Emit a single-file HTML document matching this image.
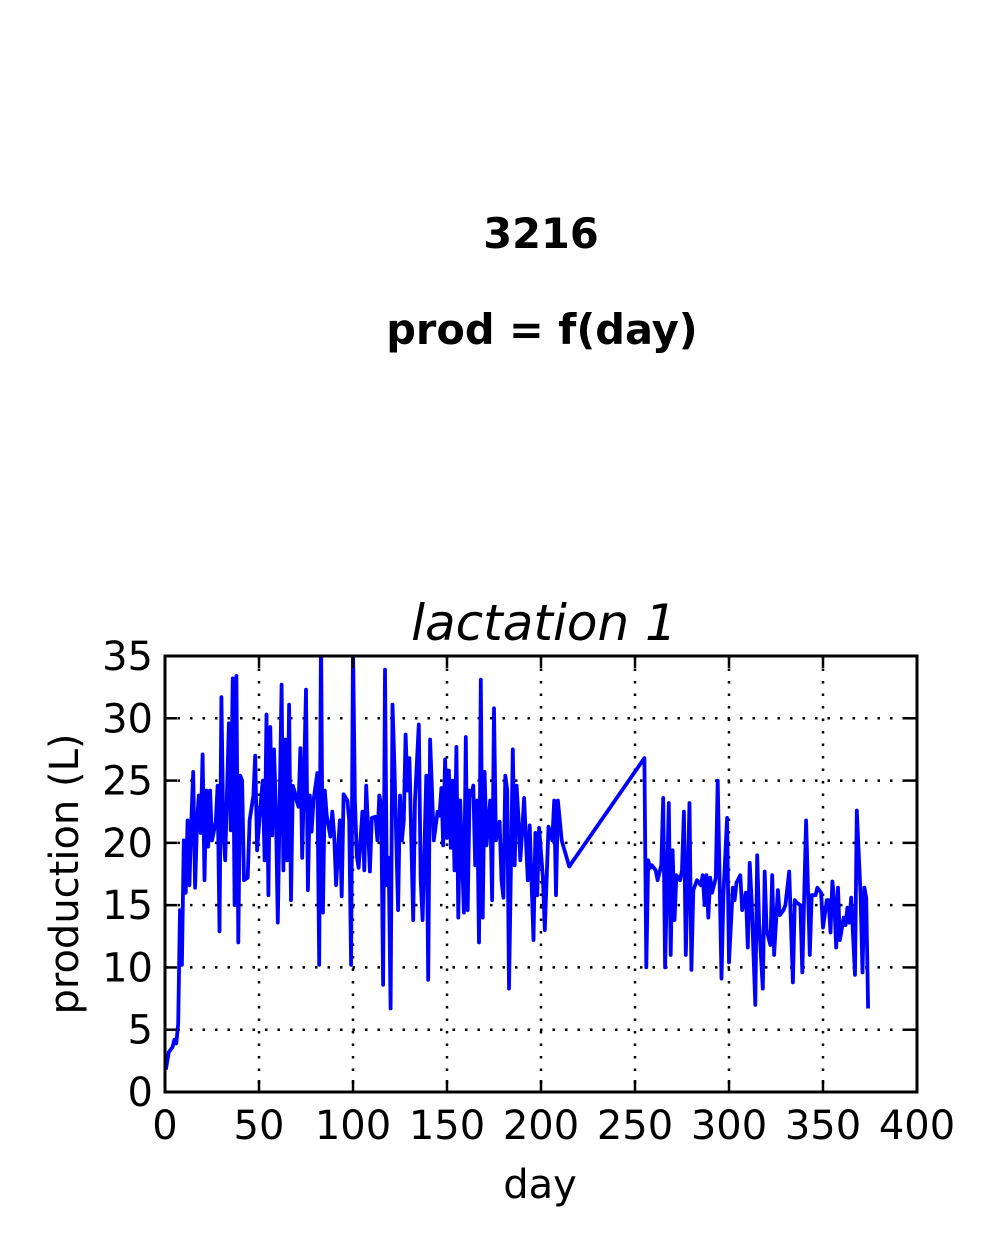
<!DOCTYPE html>
<html><head><meta charset="utf-8"><style>
body{margin:0;background:#fff;}
svg text{font-family:"DejaVu Sans","Liberation Sans",sans-serif;}
</style></head><body>
<svg id="chart" width="1000" height="1250" xmlns="http://www.w3.org/2000/svg">
<text x="541" y="248" font-size="41.5" font-weight="bold" text-anchor="middle">3216</text>
<text x="542" y="344" font-size="41.5" font-weight="bold" text-anchor="middle">prod = f(day)</text>
<text x="544" y="640" font-size="50" font-style="italic" text-anchor="middle">lactation 1</text>
<defs><clipPath id="clip"><rect x="165" y="656" width="752" height="436"/></clipPath></defs>
<g id="grid"></g>
<path id="line" fill="none" stroke="#0000ff" stroke-width="3.8" stroke-linejoin="round" clip-path="url(#clip)"/>
<g id="axes"></g>
<rect x="165" y="656" width="752" height="436" fill="none" stroke="#000" stroke-width="3"/>
<text x="540" y="1198" font-size="40" text-anchor="middle">day</text>
<text transform="translate(78,874) rotate(-90)" font-size="40" text-anchor="middle">production (L)</text>
</svg>
<script>
const xTicks=[0,50,100,150,200,250,300,350,400];
const yTicks=[0,5,10,15,20,25,30,35];
const days=[0.5,2,4,5,6,7,8,9,10,11,12,13,14,15,16,17,18,19,20,21,22,23,24,25,27,28,29,30,31,32,34,35,36,37,38,39,40,41,42,44,45,47,48,49,51,52,53,54,55,56,57,58,59,60,62,63,64,65,66,67,68,69,70,71,72,73,75,76,77,78,79,81,82,83,84,85,86,88,89,90,91,93,94,95,97,98,99,100,
101,102,103,105,106,107,109,110,112,113,114,115,116,117,118,119,120,121,122,124,125,126,127,128,129,130,132,133,135,136,137,139,140,141,143,145,146,147,148,149,150,151,152,153,154,155,156,157,159,160,161,162,163,164,165,166,167,168,169,170,171,173,174,175,176,178,179,180,181,182,183,185,186,187,188,189,190,191,193,194,196,197,198,199,201,202,204,206,207,208,209,211,215,
255,256,257,258,259,261,262,264,265,266,268,269,270,271,272,274,275,276,277,279,280,281,283,285,286,287,288,289,290,291,293,294,296,297,299,300,302,303,304,306,307,309,310,311,312,314,315,316,318,319,320,322,323,324,326,327,329,330,332,334,335,336,338,339,341,343,344,346,347,349,350,352,353,354,355,356,357,358,359,361,362,363,364,365,367,368,370,371,372,373,374];
const production=[1.8,3.2,3.6,4.2,3.9,5.5,14.6,10.2,20.2,16,21.8,16.6,21.7,25.7,16.4,21.6,23.8,20.8,27.1,17,24.2,19.7,24.2,20.2,21.7,24.6,12.9,31.7,21,18.6,29.6,21,33.2,15,33.4,12,25.4,25,17,17.2,21.8,23.8,27,19.4,23.4,25,18.6,30.3,15.8,29.3,20.6,27.5,22.6,13.6,32.7,17.8,28.3,18.6,31.1,15.4,24.6,24.1,23.4,22.9,27.6,18.8,32.3,16.2,23.8,20.9,23.4,25.6,10.2,37,14.4,24.2,22.2,20.5,22.5,20.6,16.6,21.8,15.7,23.9,23.4,21.8,10.2,36,
23.4,19,18,22.5,17.8,24.6,17.7,22,22.1,20.2,23.8,23,8.6,33.9,16.6,18.8,6.7,31.1,26.2,14.6,23.8,20.2,21.8,28.7,24.2,26.8,13.8,23.4,29.5,17,13.8,25.4,9,28.3,20.2,22.5,22.2,24.4,19.8,26.7,20.4,25.8,19.6,25,17.8,27.7,14,23.4,14.4,28.5,14.6,24.2,23.8,24.6,18.2,23.4,12,33.1,14,25.7,19.8,23.4,15.4,30.8,20.2,21.7,17,15.6,25.4,24.2,8.3,27.5,18.2,24.6,22.1,18.6,21,23.6,17,21.4,12.2,20.8,15.8,21.2,17.2,13,21.3,20.2,23.4,15.8,23.4,20.2,18.1,
26.8,10,18.6,18,18.2,17.8,17,18.2,23.6,10,23.2,11,19.4,13.8,17.4,17,17.8,22.5,11,23.2,9.8,16.2,17,16.6,17.4,15,17.4,14,17.2,16,17.2,25,9.1,15.8,22,10.4,16.4,15.4,16.8,17.4,14.6,16,11.6,18.4,15.4,7,19,13.6,8.3,17.7,13,11.8,17.4,11,16.2,14.2,14.6,15,17.7,8.8,15.4,15.2,15,9.6,21.8,11,15.8,15.8,16.4,16,13.2,15.4,15.4,12.8,16.9,15.3,11.6,16.4,12.2,14,13.4,14.8,13.6,15.6,9.4,22.6,15.8,9.6,16.4,15.6,6.7];
const X0=165,X1=917,Y0=1092,Y1=656;
function sx(d){return X0+(d-0)/(400-0)*(X1-X0);}
function sy(v){return Y0-(v-0)/(35-0)*(Y0-Y1);}
const NS="http://www.w3.org/2000/svg";
const grid=document.getElementById('grid'),axes=document.getElementById('axes');
function mk(tag,attrs,parent){const e=document.createElementNS(NS,tag);for(const k in attrs)e.setAttribute(k,attrs[k]);parent.appendChild(e);return e;}
xTicks.forEach(t=>{const x=sx(t);
 const g=mk('line',{x1:x,x2:x,y1:Y1,y2:Y0,stroke:'#000','stroke-width':2.5,'stroke-dasharray':'2.5,10'},grid);
 
 
 mk('line',{x1:x,x2:x,y1:Y0,y2:Y0-12,stroke:'#000','stroke-width':2.5},axes);
 mk('line',{x1:x,x2:x,y1:Y1,y2:Y1+12,stroke:'#000','stroke-width':2.5},axes);
 const l=mk('text',{x:x,y:Y0+47,'font-size':40,'text-anchor':'middle'},axes);l.textContent=t;
 
 
});
yTicks.forEach(t=>{const y=sy(t);
 const g=mk('line',{x1:X0,x2:X1,y1:y,y2:y,stroke:'#000','stroke-width':2.5,'stroke-dasharray':'2.5,10'},grid);
 
 
 mk('line',{x1:X0,x2:X0+12,y1:y,y2:y,stroke:'#000','stroke-width':2.5},axes);
 mk('line',{x1:X1,x2:X1-12,y1:y,y2:y,stroke:'#000','stroke-width':2.5},axes);
 const l=mk('text',{x:X0-12,y:y+14,'font-size':40,'text-anchor':'end'},axes);l.textContent=t;
 
 
});
let d='';days.forEach((v,i)=>{d+=(i?'L':'M')+sx(v).toFixed(1)+','+sy(production[i]).toFixed(1);});
document.getElementById('line').setAttribute('d',d);
</script>
</body></html>
